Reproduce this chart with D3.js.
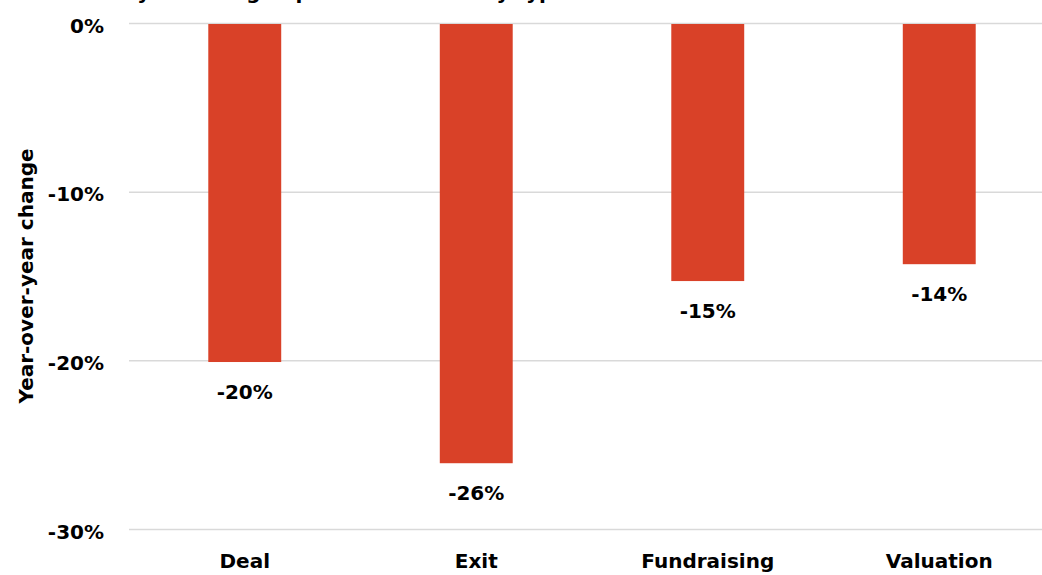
<!DOCTYPE html>
<html>
<head>
<meta charset="utf-8">
<script src="https://cdn.jsdelivr.net/npm/d3@7"></script>
<style>
  html, body { margin: 0; padding: 0; background: #ffffff; }
  svg { display: block; }
  text { font-family: "DejaVu Sans", sans-serif; font-weight: 700; fill: #000; }
</style>
</head>
<body>
<svg id="chart" width="1042" height="575"></svg>
<script>
const categories = ["Deal", "Exit", "Fundraising", "Valuation"];
const values = [-20.1, -26.1, -15.3, -14.3];
const valueLabels = ["-20%", "-26%", "-15%", "-14%"];
const yTicks = [0, -10, -20, -30];
const yTickLabels = ["0%", "-10%", "-20%", "-30%"];
const titleText = "All activity declining in private markets by type";
const yAxisTitle = "Year-over-year change";

const FONT = "'DejaVu Sans', sans-serif";
const svg = d3.select("#chart");
const W = 1042, H = 575;
const margin = { left: 129, top: 23, right: -13, bottom: 46 };

const x = d3.scaleBand()
  .domain(categories)
  .range([margin.left, W - margin.right])
  .paddingInner(0.685)
  .paddingOuter(0.3425);

const y = d3.scaleLinear()
  .domain([0, -30])
  .range([margin.top, H - margin.bottom]);

// Title (cut off at the top edge, as in the reference)
svg.append("text")
  .attr("x", 30)
  .attr("y", -1.5)
  .attr("font-size", 20)
  .text(titleText);

// Gridlines + y tick labels
const yAxis = d3.axisLeft(y).tickValues(yTicks).tickSize(-(W - margin.left)).tickFormat((d, i) => yTickLabels[i]);
const gy = svg.append("g").attr("transform", `translate(${margin.left},0)`).call(yAxis);
gy.select(".domain").remove();
gy.selectAll(".tick line").attr("stroke", "#d9d9d9").attr("stroke-width", 1.5);
gy.selectAll(".tick text")
  .attr("x", -25)
  .attr("dy", "0.45em")
  .attr("font-size", 20)
  .attr("font-family", FONT)
  .attr("font-weight", 700)
  .attr("fill", "#000");

// Bars
svg.append("g").selectAll("rect")
  .data(categories)
  .join("rect")
  .attr("x", d => x(d))
  .attr("width", x.bandwidth())
  .attr("y", y(0) + 1)
  .attr("height", (d, i) => y(values[i]) - y(0) - 1)
  .attr("fill", "#d94128");

// Value labels
svg.append("g").selectAll("text")
  .data(categories)
  .join("text")
  .attr("x", d => x(d) + x.bandwidth() / 2)
  .attr("y", (d, i) => y(values[i]) + 37)
  .attr("text-anchor", "middle")
  .attr("font-size", 20)
  .text((d, i) => valueLabels[i]);

// X axis labels
const xAxis = d3.axisBottom(x).tickSize(0);
const gx = svg.append("g").attr("transform", `translate(0,${y(-30)})`).call(xAxis);
gx.select(".domain").remove();
gx.selectAll(".tick text")
  .attr("y", 39)
  .attr("dy", 0)
  .attr("font-size", 20)
  .attr("font-family", FONT)
  .attr("font-weight", 700)
  .attr("fill", "#000");

// Y axis title
svg.append("text")
  .attr("transform", `translate(33,${(y(0) + y(-30)) / 2}) rotate(-90)`)
  .attr("text-anchor", "middle")
  .attr("font-size", 20)
  .text(yAxisTitle);
</script>
</body>
</html>
